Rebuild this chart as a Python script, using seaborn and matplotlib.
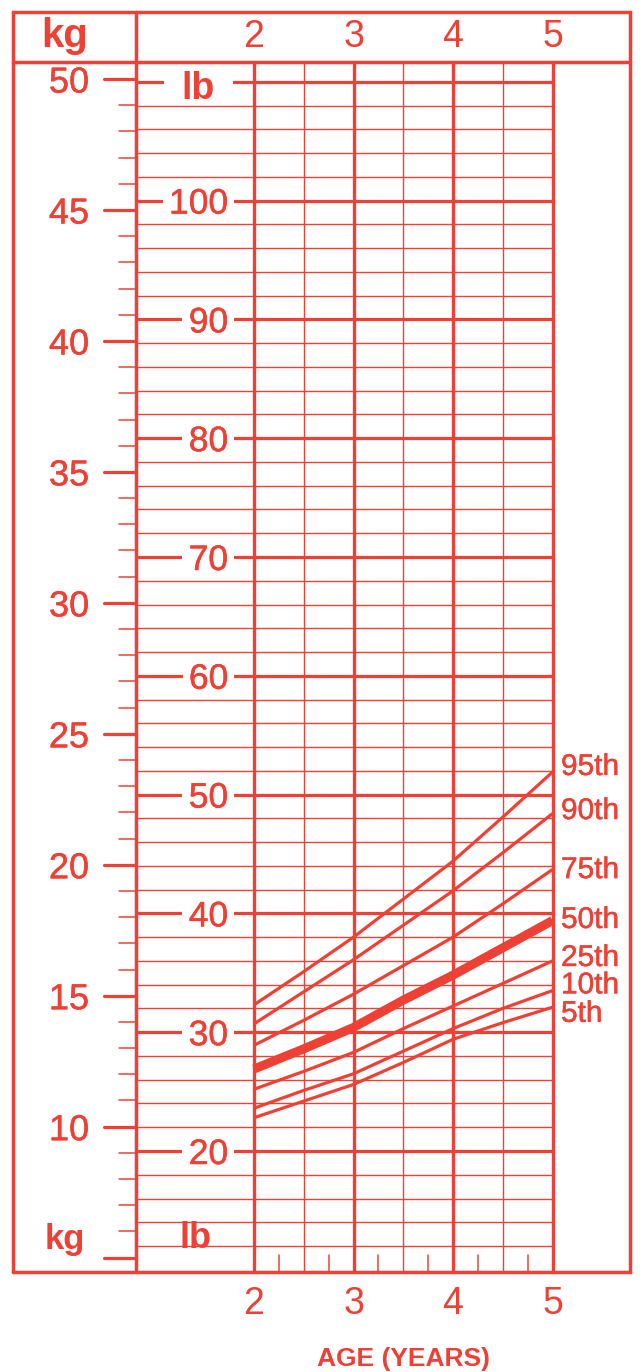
import numpy as np
import pandas as pd
import matplotlib
matplotlib.use('Agg')
import matplotlib.pyplot as plt
import matplotlib.patheffects as pe
import seaborn as sns

# percentile curves, weight in lb, read at half-year steps
ages = [2, 2.5, 3, 3.5, 4, 4.5, 5]
p95 = [32.3, 35.1, 38.0, 41.2, 44.4, 48.1, 51.9]
p90 = [30.7, 33.4, 36.1, 39.0, 41.9, 45.1, 48.4]
p75 = [28.9, 31.0, 33.2, 35.6, 38.0, 40.8, 43.7]
p50 = [26.9, 28.6, 30.4, 32.7, 34.8, 37.1, 39.4]
p25 = [25.2, 26.7, 28.3, 30.3, 32.2, 34.1, 36.0]
p10 = [23.6, 25.1, 26.5, 28.4, 30.3, 32.0, 33.5]
p5 = [22.8, 24.2, 25.6, 27.45, 29.4, 30.8, 32.1]
pct_names = ['95th', '90th', '75th', '50th', '25th', '10th', '5th']

# axes
age_ticks = [2, 3, 4, 5]
half_years = [2.5, 3.5, 4.5]
quarter_years = [2.25, 2.75, 3.25, 3.75, 4.25, 4.75]
lb_major = [20, 30, 40, 50, 60, 70, 80, 90, 100]
lb_top = 110
lb_minor = [v for v in range(12, 110, 2) if v % 10 != 0]
kg_labels = [10, 15, 20, 25, 30, 35, 40, 45, 50]
kg_major = [5] + kg_labels
kg_minor = [v for v in range(6, 50) if v % 5 != 0]
KG_TO_LB = 2.20462

RED = '#EE4034'

sns.set_style('white')
plt.rcParams['font.family'] = ['Liberation Sans', 'DejaVu Sans']

# a touch of extra weight on the regular text, like the printed chart
heavy = [pe.withStroke(linewidth=0.35, foreground=RED)]

df = pd.DataFrame({
    'age': ages * 7,
    'lb': p95 + p90 + p75 + p50 + p25 + p10 + p5,
    'pct': [n for n in pct_names for _ in ages],
})

fig = plt.figure(figsize=(6.41, 13.72), dpi=100)
ax = fig.add_axes([0, 0, 1, 1])

# layout (data units: years / lb)
L, R, SEP = -0.422, 5.779, 0.814
B, T, HEAD = 9.81, 115.88, 111.67

# frame
ax.plot([L, R, R, L, L], [B, B, T, T, B], color=RED, lw=2.5, zorder=5,
        solid_joinstyle='miter')
ax.plot([L, R], [HEAD, HEAD], color=RED, lw=2.5, zorder=5)
ax.plot([SEP, SEP], [B, T], color=RED, lw=2.5, zorder=5)

# vertical grid
for a in age_ticks:
    ax.plot([a, a], [B, HEAD], color=RED, lw=2.4, zorder=4)
for a in half_years:
    ax.plot([a, a], [B, HEAD], color=RED, lw=1.0, zorder=4)
for a in quarter_years:
    ax.plot([a, a], [B, B + 1.45], color=RED, lw=1.1, zorder=4)

# horizontal grid
for v in lb_minor:
    ax.plot([SEP, 5], [v, v], color=RED, lw=1.0, zorder=3)
for v in lb_major + [lb_top]:
    ax.plot([SEP, 5], [v, v], color=RED, lw=2.3, zorder=1)
for v in lb_major:
    ax.text(1.739, v, str(v), ha='right', va='center_baseline', fontsize=25.5,
            color=RED, zorder=2, path_effects=heavy,
            bbox=dict(facecolor='white', edgecolor='none', pad=4.5))
ax.text(1.44, 108.57, 'lb', ha='center', va='baseline', fontsize=27,
        fontweight='bold', color=RED, zorder=2,
        bbox=dict(facecolor='white', edgecolor='none', pad=13))
ax.text(1.41, 11.82, 'lb', ha='center', va='baseline', fontsize=26,
        fontweight='bold', color=RED, zorder=6)

# kg scale
for k in kg_major:
    ax.plot([0.4925, SEP], [k * KG_TO_LB] * 2, color=RED, lw=2.3, zorder=4)
for k in kg_minor:
    ax.plot([0.643, SEP], [k * KG_TO_LB] * 2, color=RED, lw=1.1, zorder=4)
for k in kg_labels:
    ax.text(0.141, k * KG_TO_LB, str(k), ha='center', va='center_baseline',
            fontsize=26, color=RED, path_effects=heavy)
ax.text(0.10, 113.85, 'kg', ha='center', va='center', fontsize=29,
        fontweight='bold', color=RED)
ax.text(0.10, 12.51, 'kg', ha='center', va='center', fontsize=25,
        fontweight='bold', color=RED)

# age labels
for a in age_ticks:
    ax.text(a, 114.07, str(a), ha='center', va='center_baseline',
            fontsize=27, color=RED)
    ax.text(a, 7.46, str(a), ha='center', va='center_baseline',
            fontsize=27, color=RED)
ax.text(3.5, 2.66, 'AGE (YEARS)', ha='center', va='center_baseline',
        fontsize=19, fontweight='bold', color=RED)

# percentile curves
label_nudge = [0.68, 0.47, 0.2, 0.3, 0.5, 0.7, -0.3]
for name, nudge in zip(pct_names, label_nudge):
    sub = df[df['pct'] == name]
    sns.lineplot(data=sub, x='age', y='lb', ax=ax, color=RED,
                 lw=6.5 if name == '50th' else 2.3, legend=False,
                 solid_capstyle='butt', zorder=6)
    ax.text(5.085, sub['lb'].iloc[-1] + nudge, name, ha='left',
            va='center_baseline', fontsize=21.5, color=RED, path_effects=heavy)

ax.set_xlim(-0.5528, 5.8894)
ax.set_ylim(1.397, 116.886)
ax.axis('off')

fig.savefig('out.png', dpi=100)
